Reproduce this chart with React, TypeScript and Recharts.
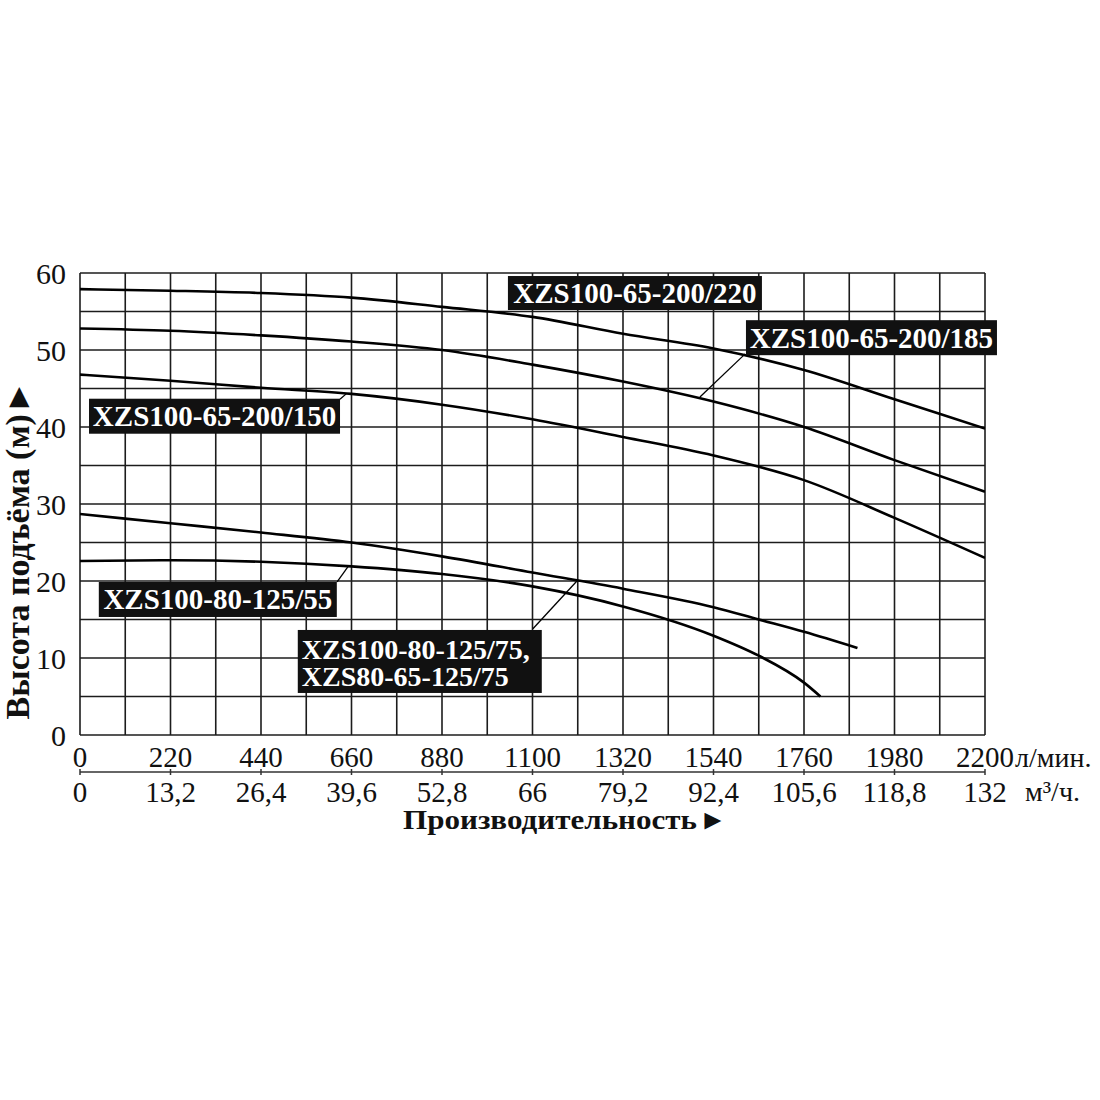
import React from 'react';
import {
  LineChart,
  Line,
  XAxis,
  YAxis,
  CartesianGrid,
  ReferenceDot,
  ReferenceLine,
} from 'recharts';

const FONT = '"Liberation Serif", "Times New Roman", serif';

// axis ticks: grid every 110 л/мин and 5 м, labels on every second one
const flowTicks = [0, 110, 220, 330, 440, 550, 660, 770, 880, 990, 1100, 1210, 1320, 1430, 1540, 1650, 1760, 1870, 1980, 2090, 2200];
const cubicTicks = [0, 13.2, 26.4, 39.6, 52.8, 66, 79.2, 92.4, 105.6, 118.8, 132];
const headTicks = [0, 5, 10, 15, 20, 25, 30, 35, 40, 45, 50, 55, 60];

// pump curves, flow in л/мин, head in м
const flow200 = [0, 220, 440, 660, 880, 1100, 1320, 1540, 1760, 1980, 2200];
const head220 = [57.9, 57.7, 57.4, 56.8, 55.6, 54.3, 52.1, 50.2, 47.4, 43.6, 39.8];
const head185 = [52.8, 52.5, 51.9, 51.1, 50.0, 48.1, 45.9, 43.3, 40.0, 35.7, 31.6];
const head150 = [46.8, 46.0, 45.1, 44.3, 42.9, 41.0, 38.7, 36.3, 33.1, 28.2, 23.0];

const flow75 = [0, 220, 440, 660, 880, 1100, 1320, 1540, 1650, 1760, 1890];
const head75 = [28.7, 27.5, 26.3, 25.0, 23.2, 21.1, 19.0, 16.6, 15.0, 13.4, 11.3];

const flow55 = [0, 220, 440, 660, 880, 1100, 1320, 1540, 1650, 1760, 1800];
const head55 = [22.6, 22.7, 22.5, 21.9, 20.9, 19.3, 16.7, 12.9, 10.3, 6.8, 5.0];

const zip = (q: number[], h: number[]) => q.map((v, i) => ({ q: v, h: h[i] }));

const series = [
  { key: '220', data: zip(flow200, head220) },
  { key: '185', data: zip(flow200, head185) },
  { key: '150', data: zip(flow200, head150) },
  { key: '75', data: zip(flow75, head75) },
  { key: '55', data: zip(flow55, head55) },
];

// rows that only give the м³/ч axis something to hang on (no values, nothing drawn)
const cubicRows = cubicTicks.map((v) => ({ m3: v }));

// callout boxes: centre in data units, size in px, leader in data units
const callouts = [
  { lines: ['XZS100-65-200/220'], q: 1349, h: 57.4, w: 254, ht: 34, leader: null },
  { lines: ['XZS100-65-200/185'], q: 1924, h: 51.6, w: 251, ht: 35, leader: [[1617, 49.5], [1507, 43.9]] },
  { lines: ['XZS100-65-200/150'], q: 327, h: 41.4, w: 251, ht: 35, leader: [[632, 43.6], [649, 44.4]] },
  { lines: ['XZS100-80-125/55'], q: 335, h: 17.6, w: 238, ht: 35, leader: [[625, 19.9], [652, 21.9]] },
  { lines: ['XZS100-80-125/75,', 'XZS80-65-125/75'], q: 826, h: 9.55, w: 244, ht: 63, leader: [[1101, 13.8], [1208, 20.0]] },
];

const FlowTick = (props: any) => {
  const { x, y, payload } = props;
  if (payload.value % 220 !== 0) return <g />;
  return (
    <text x={x} y={y + 32} textAnchor="middle" fontFamily={FONT} fontSize={29} fill="#111">
      {payload.value}
    </text>
  );
};

const CubicTick = (props: any) => {
  const { x, y, payload } = props;
  return (
    <g>
      <line x1={x} x2={x} y1={y - 3} y2={y + 3} stroke="#333" strokeWidth={1.5} />
      <text x={x} y={y + 30} textAnchor="middle" fontFamily={FONT} fontSize={29} fill="#111">
        {String(payload.value).replace('.', ',')}
      </text>
    </g>
  );
};

const HeadTick = (props: any) => {
  const { x, y, payload } = props;
  if (payload.value % 10 !== 0) return <g />;
  return (
    <text x={x - 14} y={y + 11} textAnchor="end" fontFamily={FONT} fontSize={30} fill="#111">
      {payload.value}
    </text>
  );
};

const calloutShape = (c: (typeof callouts)[number]) => (props: any) => {
  const { cx, cy } = props;
  const left = cx - c.w / 2;
  const top = cy - c.ht / 2;
  return (
    <g>
      <rect x={left} y={top} width={c.w} height={c.ht} fill="#111" />
      {c.lines.map((t, i) => (
        <text
          key={t}
          x={c.lines.length > 1 ? left + 4 : cx}
          y={c.lines.length > 1 ? top + 29 + i * 27 : cy + 10}
          textAnchor={c.lines.length > 1 ? 'start' : 'middle'}
          fontFamily={FONT}
          fontWeight="bold"
          fontSize={c.lines.length > 1 ? 28 : 29}
          fill="#fff"
        >
          {t}
        </text>
      ))}
    </g>
  );
};

export default function App() {
  return (
    <div style={{ position: 'absolute', left: 0, top: 0, width: 1100, height: 1100, background: '#fff' }}>
      <LineChart width={1100} height={1100} margin={{ top: 273, right: 115, bottom: 288, left: 20 }}>
        <CartesianGrid xAxisId="lpm" stroke="#1c1c1c" strokeWidth={1.6} />
        <XAxis
          xAxisId="lpm"
          dataKey="q"
          type="number"
          domain={[0, 2200]}
          ticks={flowTicks}
          interval={0}
          height={37}
          axisLine={false}
          tickLine={false}
          tickSize={0}
          tickMargin={0}
          tick={FlowTick}
          allowDataOverflow
        />
        <XAxis
          xAxisId="m3"
          dataKey="m3"
          type="number"
          domain={[0, 132]}
          ticks={cubicTicks}
          interval={0}
          height={40}
          axisLine={{ stroke: '#333', strokeWidth: 1.5 }}
          tickLine={false}
          tickSize={0}
          tickMargin={0}
          tick={CubicTick}
          allowDataOverflow
        />
        <YAxis
          type="number"
          domain={[0, 60]}
          ticks={headTicks}
          interval={0}
          width={60}
          axisLine={false}
          tickLine={false}
          tickSize={0}
          tickMargin={0}
          tick={HeadTick}
          allowDataOverflow
        />
        <Line
          xAxisId="m3"
          data={cubicRows}
          dataKey="h"
          stroke="none"
          dot={false}
          activeDot={false}
          legendType="none"
          isAnimationActive={false}
        />
        {series.map((s) => (
          <Line
            key={s.key}
            xAxisId="lpm"
            data={s.data}
            dataKey="h"
            type="monotone"
            stroke="#000"
            strokeWidth={2.6}
            dot={false}
            activeDot={false}
            isAnimationActive={false}
          />
        ))}
        {callouts.map((c) =>
          c.leader ? (
            <ReferenceLine
              key={'l' + c.lines[0]}
              xAxisId="lpm"
              segment={[
                { x: c.leader[0][0], y: c.leader[0][1] },
                { x: c.leader[1][0], y: c.leader[1][1] },
              ]}
              stroke="#000"
              strokeWidth={1.3}
              ifOverflow="visible"
            />
          ) : null
        )}
        {callouts.map((c) => (
          <ReferenceDot
            key={'d' + c.lines[0]}
            xAxisId="lpm"
            x={c.q}
            y={c.h}
            r={1}
            shape={calloutShape(c)}
            ifOverflow="visible"
          />
        ))}
        <text x={1015} y={767} fontFamily={FONT} fontSize={28} fill="#111">л/мин.</text>
        <text x={1025} y={801} fontFamily={FONT} fontSize={28} fill="#111">м³/ч.</text>
        <text
          x={403}
          y={829}
          fontFamily={FONT}
          fontWeight="bold"
          fontSize={27}
          textLength={294}
          lengthAdjust="spacingAndGlyphs"
          fill="#111"
        >
          Производительность
        </text>
        <text x={699} y={829} fontFamily={FONT} fontSize={28} fill="#111">►</text>
        <text
          x={29}
          y={550}
          transform="rotate(-90 29 550)"
          textAnchor="middle"
          fontFamily={FONT}
          fontWeight="bold"
          fontSize={34}
          fill="#111"
        >
          Высота подъёма (м)►
        </text>
      </LineChart>
    </div>
  );
}
